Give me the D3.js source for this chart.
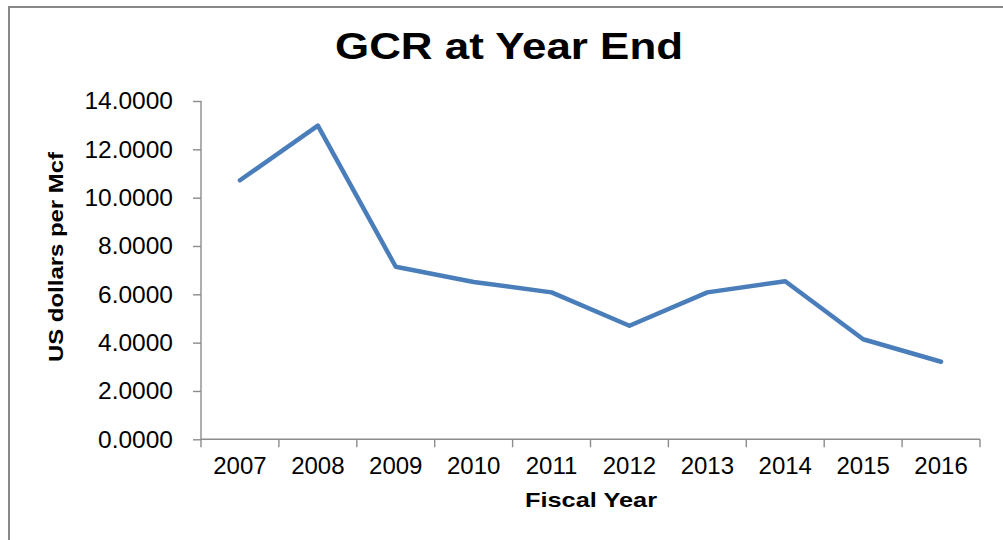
<!DOCTYPE html>
<html><head><meta charset="utf-8">
<script src="https://cdn.jsdelivr.net/npm/d3@7"></script>
<style>
html,body{margin:0;padding:0;background:#fff;}
svg{display:block;font-family:"Liberation Sans",Arial,sans-serif;}
</style></head>
<body>
<svg id="chart" width="1003" height="540"></svg>
<script>
const categories = ["2007","2008","2009","2010","2011","2012","2013","2014","2015","2016"];
const values = [10.72, 12.98, 7.14, 6.51, 6.08, 4.70, 6.08, 6.54, 4.14, 3.21];
const yTicks = [0, 2, 4, 6, 8, 10, 12, 14];
const title = "GCR at Year End";
const yLabel = "US dollars per Mcf";
const xLabel = "Fiscal Year";

const svg = d3.select("#chart");
const axisColor = "#8c8c8c";

// outer chart border
svg.append("rect").attr("x", 9).attr("y", 7).attr("width", 1010).attr("height", 560)
  .attr("fill", "none").attr("stroke", "#888").attr("stroke-width", 2);

const pLeft = 201, pRight = 980, pTop = 101, pBottom = 439.3;
const x = d3.scaleBand().domain(categories).range([pLeft, pRight]).paddingInner(0).paddingOuter(0);
const y = d3.scaleLinear().domain([0, 14]).range([pBottom, pTop]);

// title
svg.append("text").attr("x", 509).attr("y", 59).attr("text-anchor", "middle")
  .attr("font-size", 36).attr("font-weight", "bold").attr("fill", "#000")
  .attr("textLength", 348).attr("lengthAdjust", "spacingAndGlyphs").text(title);

// y axis
const yAxis = svg.append("g").attr("transform", `translate(${pLeft},0)`)
  .call(d3.axisLeft(y).tickValues(yTicks).tickFormat(d3.format(".4f")).tickSize(8).tickPadding(20));
yAxis.select(".domain").attr("stroke", axisColor).attr("stroke-width", 1.4).attr("d", `M0,${pTop}V${pBottom}`);
yAxis.selectAll(".tick line").attr("stroke", axisColor).attr("stroke-width", 1.4);
yAxis.selectAll(".tick text").attr("font-size", 24.5).attr("fill", "#000")
  .attr("font-family", "Liberation Sans, Arial, sans-serif");

// x axis: ticks at category boundaries
const xAxisG = svg.append("g").attr("transform", `translate(0,${pBottom})`);
xAxisG.append("line").attr("x1", pLeft).attr("x2", pRight).attr("y1", 0).attr("y2", 0)
  .attr("stroke", axisColor).attr("stroke-width", 1.4);
const bounds = categories.map(c => x(c)).concat([x(categories[categories.length-1]) + x.bandwidth()]);
xAxisG.selectAll("line.tk").data(bounds).enter().append("line").attr("class","tk")
  .attr("x1", d => d).attr("x2", d => d).attr("y1", 0).attr("y2", 8)
  .attr("stroke", axisColor).attr("stroke-width", 1.4);
xAxisG.selectAll("text").data(categories).enter().append("text")
  .attr("x", d => x(d) + x.bandwidth()/2).attr("y", 35).attr("text-anchor", "middle")
  .attr("font-size", 24).attr("fill", "#000").text(d => d);

// axis titles
svg.append("text").attr("transform", "translate(63,257) rotate(-90)").attr("text-anchor", "middle")
  .attr("font-size", 20).attr("font-weight", "bold").attr("fill", "#000")
  .attr("textLength", 210).attr("lengthAdjust", "spacingAndGlyphs").text(yLabel);
svg.append("text").attr("x", 591).attr("y", 507).attr("text-anchor", "middle")
  .attr("font-size", 20.5).attr("font-weight", "bold").attr("fill", "#000")
  .attr("textLength", 132).attr("lengthAdjust", "spacingAndGlyphs").text(xLabel);

// line
const line = d3.line().x((d, i) => x(categories[i]) + x.bandwidth()/2).y(d => y(d));
svg.append("path").datum(values).attr("d", line).attr("fill", "none")
  .attr("stroke", "#4a7ebb").attr("stroke-width", 4.5)
  .attr("stroke-linejoin", "round").attr("stroke-linecap", "round");
</script>
</body></html>
